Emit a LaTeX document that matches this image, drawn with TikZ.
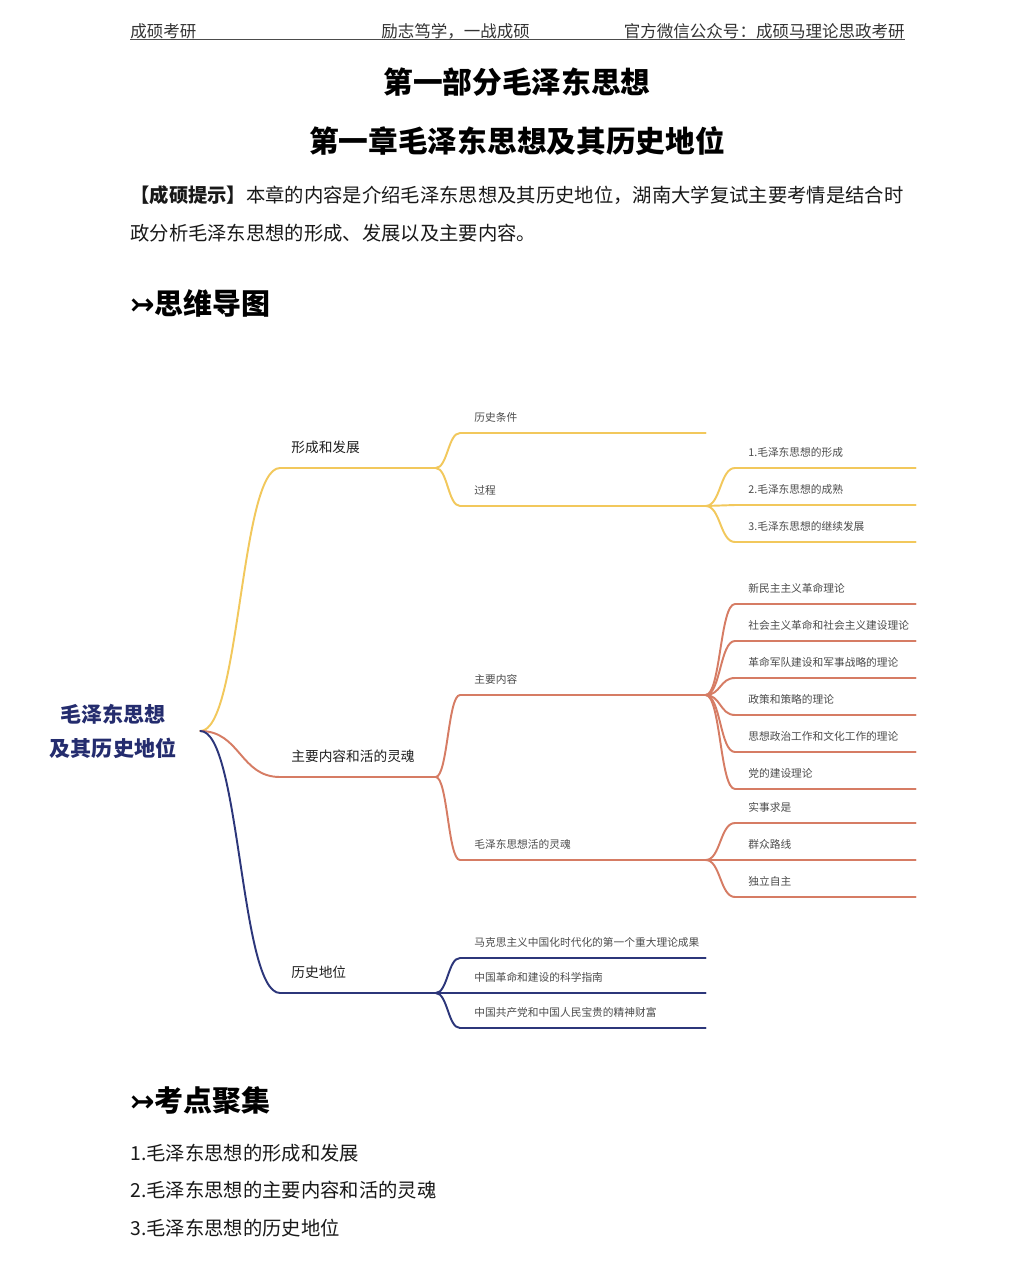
\documentclass[tikz,border=0pt]{standalone}
\usepackage{fontspec}
\setmainfont{Noto Sans CJK SC}
\newfontfamily\symfont{DejaVu Sans}
\definecolor{mmyellow}{RGB}{242,200,92}
\definecolor{mmred}{RGB}{214,124,100}
\definecolor{mmnavy}{RGB}{44,54,122}
\definecolor{rootnavy}{RGB}{36,44,110}

\begin{document}
\begin{tikzpicture}[
	x=0.02cm, y=-0.02cm,
	txt/.style={anchor=west, inner sep=0pt},
	header/.style={txt, font=\fontsize{9.4}{11}\selectfont, text=black!80},
	ttl/.style={inner sep=0pt, font=\fontsize{16.9}{20}\selectfont\bfseries},
	body/.style={txt, font=\fontsize{11}{13}\selectfont, text=black!90},
	sechead/.style={txt, font=\fontsize{16.5}{19}\selectfont\bfseries},
	rootbox/.style={
		inner sep=0pt,
		minimum width=3.48cm,
		align=center,
		text=rootnavy,
		font=\fontsize{12}{19.3}\selectfont\bfseries
	},
	lvone/.style={
		anchor=south west,
		text width=2.66cm,
		inner xsep=0.22cm,
		inner ysep=0.3cm,
		text depth=0pt,
		align=left,
		text=black!88,
		font=\fontsize{7.8}{9}\selectfont
	},
	lvtwo/.style={
		anchor=south west,
		text width=4.34cm,
		inner xsep=0.28cm,
		inner ysep=0.23cm,
		text depth=0pt,
		align=left,
		text=black!70,
		font=\fontsize{6.1}{7.5}\selectfont
	},
	lvthree/.style={lvtwo, text width=3.08cm, inner xsep=0.26cm},
	ybr/.style={draw=mmyellow, line width=1.1pt, line cap=round},
	rbr/.style={draw=mmred, line width=1.1pt, line cap=round},
	nbr/.style={draw=mmnavy, line width=1.1pt, line cap=round}
]
\fill[white] (0,0) rectangle (1010,1268);
\useasboundingbox (0,0) rectangle (1010,1268);

% Cabecera de la página
\node[header] (hdleft) at (130,31) {成硕考研};
\node[header] (hdmid) at (381,31) {励志笃学，一战成硕};
\node[header, anchor=east] (hdright) at (905,31) {官方微信公众号：成硕马理论思政考研};
\draw[black!70, line width=0.5pt] (130,39.5) -- (905,39.5);

% Títulos
\node[ttl] (partttl) at (517,82) {第一部分毛泽东思想};
\node[ttl] (chapttl) at (517,141) {第一章毛泽东思想及其历史地位};

% Texto de introducción
\node[body] (tipone) at (130,195) {{\bfseries 【成硕提示】}本章的内容是介绍毛泽东思想及其历史地位，湖南大学复试主要考情是结合时};
\node[body] (tiptwo) at (130,233) {政分析毛泽东思想的形成、发展以及主要内容。};

\node[sechead] (mapttl) at (130,303) {{\symfont ↣}思维导图};

% Raíz del mapa
\node[rootbox] (root) at (113,731) {毛泽东思想\\及其历史地位};

% Rama 1: formación y desarrollo
\node[lvone] (form) at (280,468) {形成和发展};
\node[lvtwo] (hist) at (460,433) {历史条件};
\node[lvtwo] (proc) at (460,506) {过程};
\node[lvthree] (procA) at (735,468) {1.毛泽东思想的形成};
\node[lvthree] (procB) at (735,505) {2.毛泽东思想的成熟};
\node[lvthree] (procC) at (735,542) {3.毛泽东思想的继续发展};

% Rama 2: contenido principal y alma viva
\node[lvone] (core) at (280,777) {主要内容和活的灵魂};
\node[lvtwo] (cont) at (460,695) {主要内容};
\node[lvtwo] (soul) at (460,860) {毛泽东思想活的灵魂};
\node[lvthree] (contA) at (735,604) {新民主主义革命理论};
\node[lvthree] (contB) at (735,641) {社会主义革命和社会主义建设理论};
\node[lvthree] (contC) at (735,678) {革命军队建设和军事战略的理论};
\node[lvthree] (contD) at (735,715) {政策和策略的理论};
\node[lvthree] (contE) at (735,752) {思想政治工作和文化工作的理论};
\node[lvthree] (contF) at (735,789) {党的建设理论};
\node[lvthree] (soulA) at (735,823) {实事求是};
\node[lvthree] (soulB) at (735,860) {群众路线};
\node[lvthree] (soulC) at (735,897) {独立自主};

% Rama 3: posición histórica
\node[lvone] (place) at (280,993) {历史地位};
\node[lvtwo] (placeA) at (460,958) {马克思主义中国化时代化的第一个重大理论成果};
\node[lvtwo] (placeB) at (460,993) {中国革命和建设的科学指南};
\node[lvtwo] (placeC) at (460,1028) {中国共产党和中国人民宝贵的精神财富};

% Conexiones
\draw[ybr] (root.east) .. controls +(40,0) and +(-40,0) .. (form.south west) -- (form.south east);
\draw[rbr] (root.east) .. controls +(40,0) and +(-40,0) .. (core.south west) -- (core.south east);
\draw[nbr] (root.east) .. controls +(40,0) and +(-40,0) .. (place.south west) -- (place.south east);

\foreach \n in {hist,proc}
	\draw[ybr] (form.south east) .. controls +(12,0) and +(-12,0) .. (\n.south west) -- (\n.south east);
\foreach \n in {procA,procB,procC}
	\draw[ybr] (proc.south east) .. controls +(15,0) and +(-15,0) .. (\n.south west) -- (\n.south east);

\foreach \n in {cont,soul}
	\draw[rbr] (core.south east) .. controls +(12,0) and +(-12,0) .. (\n.south west) -- (\n.south east);
\foreach \n in {contA,contB,contC,contD,contE,contF}
	\draw[rbr] (cont.south east) .. controls +(15,0) and +(-15,0) .. (\n.south west) -- (\n.south east);
\foreach \n in {soulA,soulB,soulC}
	\draw[rbr] (soul.south east) .. controls +(15,0) and +(-15,0) .. (\n.south west) -- (\n.south east);

\foreach \n in {placeA,placeB,placeC}
	\draw[nbr] (place.south east) .. controls +(12,0) and +(-12,0) .. (\n.south west) -- (\n.south east);

% Puntos clave
\node[sechead] (pointttl) at (130,1100) {{\symfont ↣}考点聚集};
\node[body] (ptA) at (130,1153) {1.毛泽东思想的形成和发展};
\node[body] (ptB) at (130,1190) {2.毛泽东思想的主要内容和活的灵魂};
\node[body] (ptC) at (130,1228) {3.毛泽东思想的历史地位};

\end{tikzpicture}
\end{document}
